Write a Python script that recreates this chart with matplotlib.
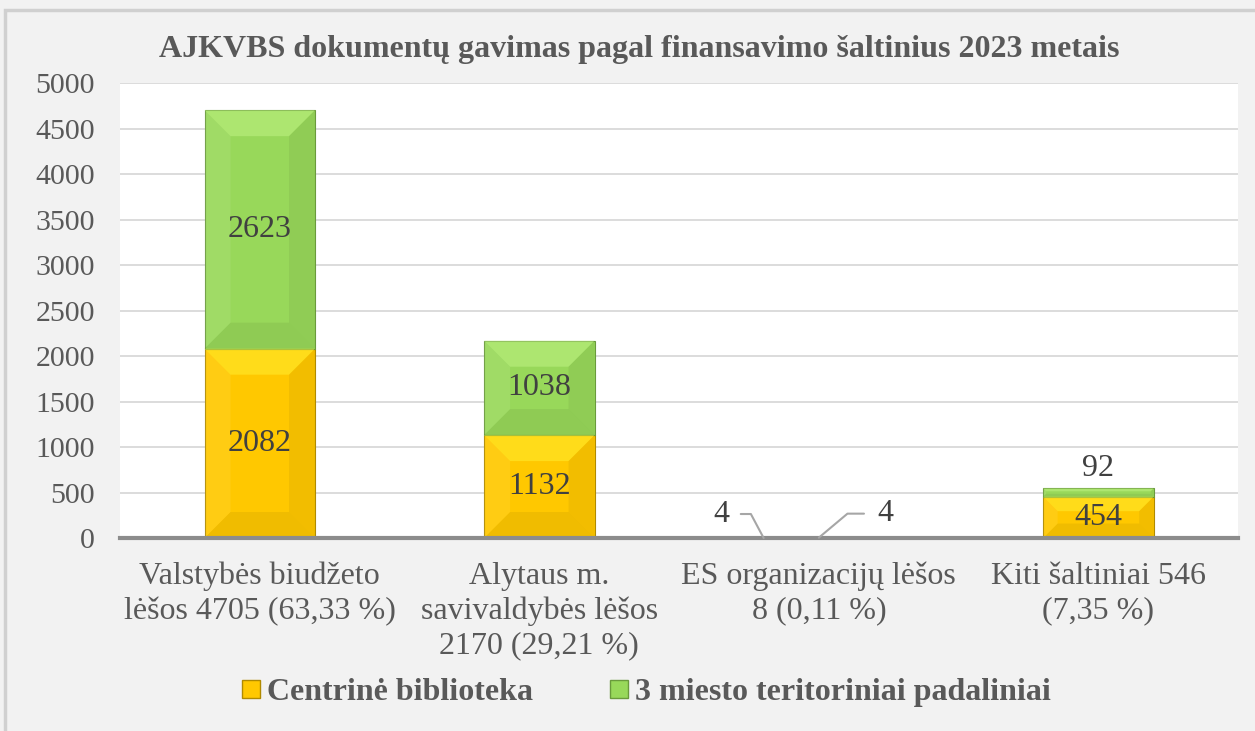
import matplotlib.pyplot as plt
import numpy as np
from matplotlib.patches import Polygon, Rectangle
from matplotlib.lines import Line2D

categories = ["Valstybės biudžeto\nlėšos 4705 (63,33 %)",
              "Alytaus m.\nsavivaldybės lėšos\n2170 (29,21 %)",
              "ES organizacijų lėšos\n8 (0,11 %)",
              "Kiti šaltiniai 546\n(7,35 %)"]
centrine = [2082, 1132, 4, 454]
padaliniai = [2623, 1038, 4, 92]
series_names = ["Centrinė biblioteka", "3 miesto teritoriniai padaliniai"]
title = "AJKVBS dokumentų gavimas pagal finansavimo šaltinius 2023 metais"

plt.rcParams['font.family'] = ['Liberation Serif', 'DejaVu Serif']
txt = '#404040'
txt2 = '#595959'

fig = plt.figure(figsize=(12.55, 7.31), dpi=100, facecolor='#f2f2f2')
# outer frame
fig.patches.append(Rectangle((0.004, -0.01), 1.0, 0.997, transform=fig.transFigure,
                             fill=False, edgecolor='#d0d0d0', lw=2.5))
ax = fig.add_axes([0.0956, 0.264, 0.891, 0.622])
ax.set_facecolor('white')

x = np.arange(len(categories))
w = 0.395
ax.set_xlim(-0.5, len(categories) - 0.5)
ax.set_ylim(0, 5000)

yellow, green = '#ffc800', '#98d85a'
b1 = ax.bar(x, centrine, w, color=yellow, edgecolor='#b08a00', lw=0.8, zorder=3)
b2 = ax.bar(x, padaliniai, w, bottom=centrine, color=green, edgecolor='#6a9a3c', lw=0.8, zorder=3)

# bevel shading
fig.canvas.draw()
bb = ax.get_window_extent()
pxx = bb.width / (ax.get_xlim()[1] - ax.get_xlim()[0])
pxy = bb.height / (ax.get_ylim()[1] - ax.get_ylim()[0])
for bars, light in ((b1, '#fff53a'), (b2, '#c8f98c')):
    for r in bars:
        x0, y0 = r.get_x(), r.get_y()
        ww, hh = r.get_width(), r.get_height()
        hpx = hh * pxy
        if hpx < 6:
            continue
        bp = min(26, hpx * 0.35, ww * pxx * 0.3)
        bx, by = bp / pxx, bp / pxy
        x1, y1 = x0 + ww, y0 + hh
        top = [(x0, y1), (x1, y1), (x1 - bx, y1 - by), (x0 + bx, y1 - by)]
        bot = [(x0, y0), (x1, y0), (x1 - bx, y0 + by), (x0 + bx, y0 + by)]
        lft = [(x0, y0), (x0, y1), (x0 + bx, y1 - by), (x0 + bx, y0 + by)]
        rgt = [(x1, y0), (x1, y1), (x1 - bx, y1 - by), (x1 - bx, y0 + by)]
        ax.add_patch(Polygon(top, closed=True, color=light, alpha=0.45, lw=0, zorder=3.5))
        ax.add_patch(Polygon(bot, closed=True, color='black', alpha=0.06, lw=0, zorder=3.5))
        ax.add_patch(Polygon(lft, closed=True, color='white', alpha=0.08, lw=0, zorder=3.5))
        ax.add_patch(Polygon(rgt, closed=True, color='black', alpha=0.05, lw=0, zorder=3.5))

# data labels
fs_lab = 23
for i in range(len(categories)):
    c, p = centrine[i], padaliniai[i]
    if c > 100:
        ax.text(x[i], c / 2, str(c), ha='center', va='center', fontsize=fs_lab, color=txt, zorder=5)
    if p > 300:
        ax.text(x[i], c + p / 2, str(p), ha='center', va='center', fontsize=fs_lab, color=txt, zorder=5)
    elif p > 20:
        ax.text(x[i], c + p + 60, str(p), ha='center', va='bottom', fontsize=fs_lab, color=txt, zorder=5)

# small ES values with leader lines
ax.annotate(str(centrine[2]), xy=(x[2] - w / 2, 0), xytext=(-42, 24), textcoords='offset pixels',
            ha='center', va='center', fontsize=fs_lab, color=txt, zorder=5,
            arrowprops=dict(arrowstyle='-', color='#a6a6a6', lw=1.5, shrinkA=6, shrinkB=0,
                            connectionstyle='angle,angleA=0,angleB=118,rad=0'))
ax.annotate(str(padaliniai[2]), xy=(x[2], centrine[2]), xytext=(67, 24), textcoords='offset pixels',
            ha='center', va='center', fontsize=fs_lab, color=txt, zorder=5,
            arrowprops=dict(arrowstyle='-', color='#a6a6a6', lw=1.5, shrinkA=8, shrinkB=0,
                            connectionstyle='angle,angleA=0,angleB=40,rad=0'))

ax.set_yticks(np.arange(0, 5001, 500))
ax.grid(axis='y', color='#d9d9d9', lw=1.3, zorder=0)
ax.set_axisbelow(True)
for s in ['top', 'right', 'left']:
    ax.spines[s].set_visible(False)
ax.spines['bottom'].set_color('#8c8c8c')
ax.spines['bottom'].set_linewidth(3)
ax.spines['bottom'].set_zorder(4)
ax.tick_params(axis='y', length=0, labelsize=21.5, labelcolor=txt2, pad=18)
ax.tick_params(axis='x', length=0, labelsize=23, labelcolor=txt2, pad=17)
ax.set_xticks(x)
ax.set_xticklabels(categories, linespacing=1.25)

fig.text(0.509, 0.932, title, ha='center', va='center', fontsize=23, fontweight='bold', color=txt2)

handles = [Line2D([], [], marker='s', ls='', markersize=13, markerfacecolor=yellow, markeredgecolor='#b08a00'),
           Line2D([], [], marker='s', ls='', markersize=13, markerfacecolor=green, markeredgecolor='#6a9a3c')]
leg = fig.legend(handles, series_names, loc='center', bbox_to_anchor=(0.515, 0.053), ncol=2, frameon=False,
                 prop={'size': 23, 'weight': 'bold'}, handlelength=0.6, handletextpad=0.2, columnspacing=2.4)
for t in leg.get_texts():
    t.set_color(txt2)

fig.savefig('out.png', dpi=100, facecolor=fig.get_facecolor())
